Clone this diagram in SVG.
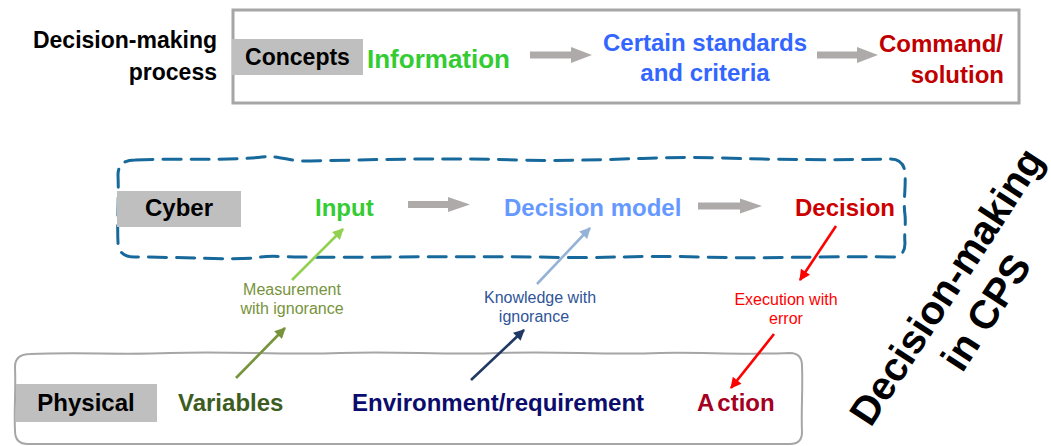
<svg xmlns="http://www.w3.org/2000/svg" width="1051" height="446" viewBox="0 0 1051 446">
<defs>
<style>
text{font-family:"Liberation Sans",Arial,sans-serif;}
.b{font-weight:bold;}
.lbl{fill:#bfbfbf;}
.blk{fill:#000;font-size:23px;font-weight:bold;}
.big{font-size:24px;font-weight:bold;}
.sm{font-size:16px;}
.garrow{fill:#aeaaaa;}
.thin{stroke-width:2.6;fill:none;}
</style>
<marker id="mLG" viewBox="0 0 10 10" refX="9" refY="5" markerWidth="12" markerHeight="11" markerUnits="userSpaceOnUse" orient="auto"><path d="M0,0 L10,5 L0,10 Z" fill="#92d050"/></marker>
<marker id="mOL" viewBox="0 0 10 10" refX="9" refY="5" markerWidth="12" markerHeight="11" markerUnits="userSpaceOnUse" orient="auto"><path d="M0,0 L10,5 L0,10 Z" fill="#77933c"/></marker>
<marker id="mLB" viewBox="0 0 10 10" refX="9" refY="5" markerWidth="12" markerHeight="11" markerUnits="userSpaceOnUse" orient="auto"><path d="M0,0 L10,5 L0,10 Z" fill="#95b3d7"/></marker>
<marker id="mNV" viewBox="0 0 10 10" refX="9" refY="5" markerWidth="12" markerHeight="11" markerUnits="userSpaceOnUse" orient="auto"><path d="M0,0 L10,5 L0,10 Z" fill="#1f3864"/></marker>
<marker id="mRD" viewBox="0 0 10 10" refX="9" refY="5" markerWidth="12" markerHeight="11" markerUnits="userSpaceOnUse" orient="auto"><path d="M0,0 L10,5 L0,10 Z" fill="#ff0000"/></marker>
</defs>
<rect width="1051" height="446" fill="#ffffff"/>

<!-- Top: decision-making process -->
<g id="process-label">
<text class="blk" x="217" y="48" text-anchor="end">Decision-making</text>
<text class="blk" x="217" y="80" text-anchor="end">process</text>
</g>
<g id="concepts-box">
<rect x="233" y="10" width="786" height="93" fill="none" stroke="#a6a6a6" stroke-width="3"/>
</g>
<g id="concepts">
<rect class="lbl" x="232" y="39" width="131" height="36"/>
<text class="blk" x="297.5" y="65" text-anchor="middle">Concepts</text>
</g>
<g id="information">
<text class="b" x="367" y="68" font-size="26" fill="#33cc33">Information</text>
</g>
<g id="standards">
<text class="big" x="705" y="51" text-anchor="middle" fill="#3366ff">Certain standards</text>
<text class="big" x="705" y="81" text-anchor="middle" fill="#3366ff">and criteria</text>
</g>
<g id="command">
<text class="big" x="1003" y="52" text-anchor="end" fill="#c00000">Command/</text>
<text class="big" x="1004" y="83" text-anchor="end" fill="#c00000">solution</text>
</g>

<!-- Cyber -->
<g id="cyber-box">
<path d="M135,160 C180,158 230,161 262,157 C280,155 290,162 310,161 C400,159 450,158 520,160 C600,162 650,156 720,158 C780,160 840,160 890,159 Q905,159 905,175 C906,190 903,200 905,215 C906,225 904,235 905,243 Q905,258 890,257 C820,256 760,259 700,257 C640,255 600,259 540,257 C420,256 350,258 300,257 C280,257 270,255 255,258 C230,260 180,257 135,257 Q118,257 118,242 C117,225 119,200 118,175 Q118,160 135,160 Z" fill="none" stroke="#17699b" stroke-width="3" stroke-dasharray="18 10" stroke-linecap="round"/>
</g>
<g id="cyber">
<rect class="lbl" x="117" y="191" width="124" height="36"/>
<text class="big" x="179" y="216" text-anchor="middle" fill="#000">Cyber</text>
</g>
<g id="input"><text class="big" x="315" y="216" fill="#33cc33">Input</text></g>
<g id="decision-model"><text class="big" x="504" y="216" fill="#6699ff">Decision model</text></g>
<g id="decision"><text class="big" x="795" y="216" fill="#cc0000">Decision</text></g>

<!-- Physical -->
<g id="physical-box">
<path d="M30,354 C80,352 120,355 170,353 C230,351 280,355 340,353 C400,351 440,355 500,353 C560,351 600,355 660,353 C700,352 740,355 790,353 Q802,353 802,366 C803,390 801,410 802,432 Q802,444 790,444 L28,444 Q15,444 15,431 C14,410 16,390 15,367 Q15,354 30,354 Z" fill="none" stroke="#a6a6a6" stroke-width="2"/>
</g>
<g id="physical">
<rect class="lbl" x="16" y="384" width="141" height="38"/>
<text class="big" x="86" y="411" text-anchor="middle" fill="#000">Physical</text>
</g>
<g id="variables"><text class="big" x="178" y="411" fill="#3d5c1f">Variables</text></g>
<g id="environment"><text class="big" x="352" y="411" fill="#0c0c6c">Environment/requirement</text></g>
<g id="action"><text class="big" x="697" y="411" fill="#a50021"><tspan>A</tspan><tspan dx="3">ction</tspan></text></g>

<!-- Rotated title -->
<g id="cps-title">
<text class="b" font-size="40" fill="#000" text-anchor="middle" transform="translate(958,294) rotate(-57)"><tspan x="0" y="0">Decision-making</tspan><tspan x="0" dy="47">in CPS</tspan></text>
</g>

<!-- Connectors -->
<g id="connectors">
<polygon class="garrow" points="530,51.5 571,51.5 571,47 592,55 571,63 571,58.5 530,58.5"/>
<polygon class="garrow" points="817,51.5 857,51.5 857,47 878,55 857,63 857,58.5 817,58.5"/>
<polygon class="garrow" points="408,201 448,201 448,197 470,204.5 448,212 448,208 408,208"/>
<polygon class="garrow" points="698,202.5 740,202.5 740,198.5 762,206 740,213.5 740,209.5 698,209.5"/>
<line class="thin" x1="292" y1="280" x2="343" y2="229" stroke="#92d050" marker-end="url(#mLG)"/>
<line class="thin" x1="236" y1="378" x2="285" y2="328" stroke="#77933c" marker-end="url(#mOL)"/>
<line class="thin" x1="537" y1="284" x2="590" y2="228" stroke="#95b3d7" marker-end="url(#mLB)"/>
<line class="thin" x1="471" y1="380" x2="524" y2="330" stroke="#1f3864" marker-end="url(#mNV)"/>
<line class="thin" x1="836" y1="226" x2="800" y2="280" stroke="#ff0000" marker-end="url(#mRD)"/>
<line class="thin" x1="774" y1="334" x2="731" y2="388" stroke="#ff0000" marker-end="url(#mRD)"/>
<text class="sm" x="292" y="295" text-anchor="middle" fill="#77933c">Measurement</text>
<text class="sm" x="292" y="314" text-anchor="middle" fill="#77933c">with ignorance</text>
<text class="sm" x="540" y="303" text-anchor="middle" fill="#2f5597">Knowledge with</text>
<text class="sm" x="534" y="322" text-anchor="middle" fill="#2f5597">ignorance</text>
<text class="sm" x="786" y="305" text-anchor="middle" fill="#ff0000">Execution with</text>
<text class="sm" x="786" y="324" text-anchor="middle" fill="#ff0000">error</text>
</g>
</svg>
